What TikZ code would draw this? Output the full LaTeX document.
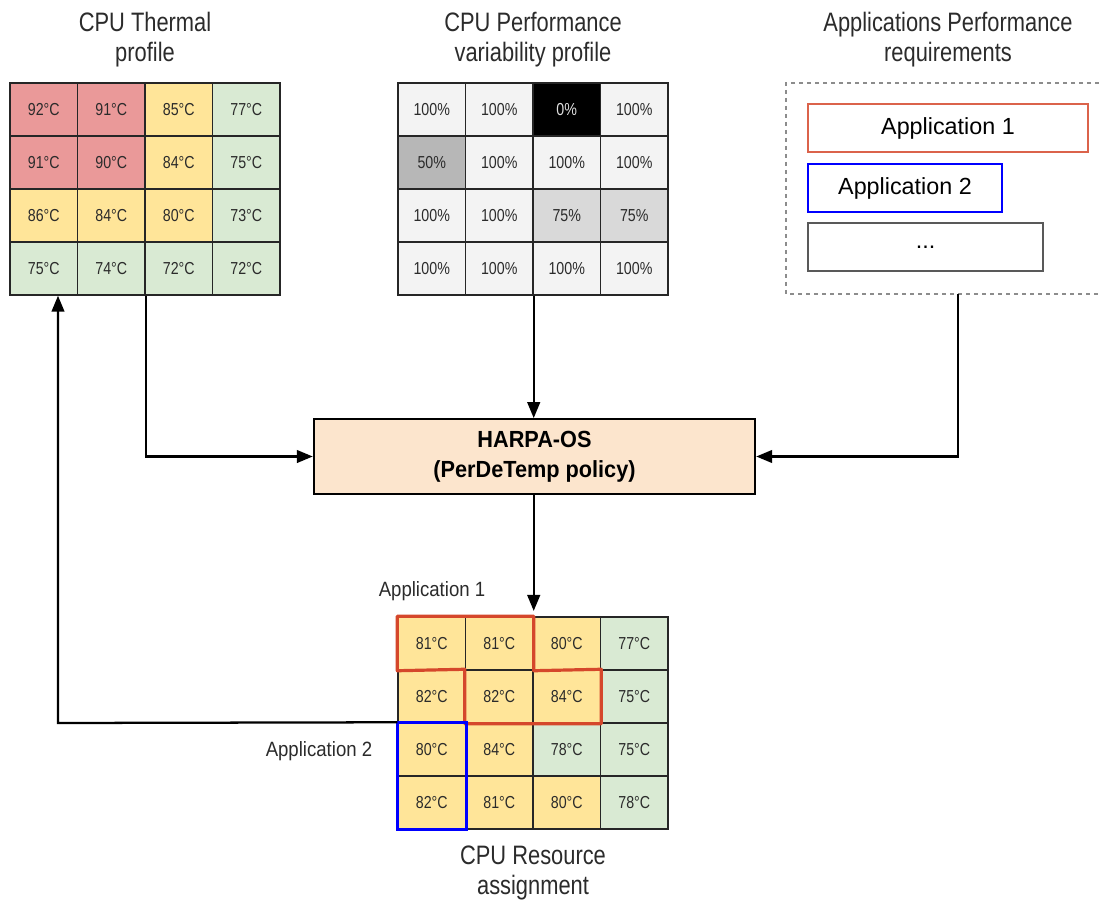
\documentclass[tikz,border=0pt]{standalone}
\usepackage{fontspec}
\setmainfont{Liberation Sans}
\newfontfamily\narrowfont[FakeStretch=0.82]{Liberation Sans}
\newfontfamily\labelfont[FakeStretch=0.9]{Liberation Sans}
\newfontfamily\osfont[FakeStretch=0.93]{Liberation Sans}
\usetikzlibrary{arrows.meta}
\definecolor{hot}{HTML}{EA9999}
\definecolor{warm}{HTML}{FFE599}
\definecolor{cool}{HTML}{D9EAD3}
\definecolor{full}{HTML}{F3F3F3}
\definecolor{half}{HTML}{B7B7B7}
\definecolor{threeq}{HTML}{D9D9D9}
\definecolor{osfill}{HTML}{FCE5CD}
\definecolor{appred}{HTML}{D5472B}
\definecolor{appblue}{HTML}{0000FF}
\definecolor{txt}{HTML}{2B2B2B}
\begin{document}
\begin{tikzpicture}[x=.75pt,y=-.75pt,line width=1pt,
  cell/.style={draw=black!85,line width=1.1pt,inner sep=0pt,minimum width=50.6pt,minimum height=39.75pt,
    text=txt,font=\narrowfont\fontsize{13}{15}\selectfont},
  title/.style={align=center,text=txt,font=\narrowfont\fontsize{20}{22.5}\selectfont},
  applabel/.style={text=txt,font=\labelfont\fontsize{15.5}{18}\selectfont},
  appbox/.style={draw,line width=1.6pt,minimum height=36pt,inner sep=0pt,font=\fontsize{17.5}{20}\selectfont},
  flow/.style={line width=1.7pt,-{Triangle[length=12pt,width=9.5pt]}}]
\useasboundingbox (0,0) rectangle (1099,902);
% titles
\node[title] (thtitle) at (145,40) {CPU Thermal\\profile};
\node[title] (pftitle) at (533,40) {CPU Performance\\variability profile};
\node[title] (rqtitle) at (948,40) {Applications Performance\\requirements};
\node[title] (rstitle) at (533,873) {CPU Resource\\assignment};
% thermal profile
\foreach \v/\f [count=\i from 0] in {92/hot,91/hot,85/warm,77/cool,91/hot,90/hot,84/warm,75/cool,
    86/warm,84/warm,80/warm,73/cool,75/cool,74/cool,72/cool,72/cool}{
  \pgfmathtruncatemacro\cx{mod(\i,4)}
  \pgfmathtruncatemacro\cy{\i/4}
  \node[cell,fill=\f] (th\i) at ({10+67.5*(\cx+.5)},{83+53*(\cy+.5)}) {\v°C};
}
% performance variability profile
\foreach \v/\f/\t [count=\i from 0] in {100/full/txt,100/full/txt,0/black/black!12,100/full/txt,
    50/half/txt,100/full/txt,100/full/txt,100/full/txt,100/full/txt,100/full/txt,75/threeq/txt,75/threeq/txt,
    100/full/txt,100/full/txt,100/full/txt,100/full/txt}{
  \pgfmathtruncatemacro\cx{mod(\i,4)}
  \pgfmathtruncatemacro\cy{\i/4}
  \node[cell,fill=\f,text=\t] (pf\i) at ({398+67.5*(\cx+.5)},{83+53*(\cy+.5)}) {\v\%};
}
% resource assignment
\foreach \v/\f [count=\i from 0] in {81/warm,81/warm,80/warm,77/cool,82/warm,82/warm,84/warm,75/cool,
    80/warm,84/warm,78/cool,75/cool,82/warm,81/warm,80/warm,78/cool}{
  \pgfmathtruncatemacro\cx{mod(\i,4)}
  \pgfmathtruncatemacro\cy{\i/4}
  \node[cell,fill=\f] (rs\i) at ({398+67.5*(\cx+.5)},{617+53*(\cy+.5)}) {\v°C};
}
\draw[appred,line width=2.4pt,line join=round] (rs0.north west) -- (rs1.north east) -- (rs1.south east)
  -- (rs6.north east) -- (rs6.south east) -- (rs5.south west) -- (rs5.north west) -- (rs0.south west) -- cycle;
\draw[appblue,line width=2.4pt] (rs8.north west) rectangle (rs12.south east);
\node[applabel] (lbl1) at (432,591) {Application 1};
\node[applabel] (lbl2) at (319,751) {Application 2};
% requirements
\draw[dashed,black!45,line width=.9pt] (1099,83) -- (786,83) -- (786,294) -- (1099,294);
\coordinate (rqout) at (958,294);
\node[appbox,draw=appred!85,minimum width=210pt] (app1) at (948,128) {Application 1};
\node[appbox,draw=appblue,minimum width=145.5pt] (app2) at (905,188) {Application 2};
\node[appbox,draw=black!65,line width=1.2pt,minimum width=176pt] (appn) at (925.5,247) {...};
% HARPA-OS
\node[draw,line width=1.6pt,fill=osfill,minimum width=331pt,minimum height=56pt,align=center,
  font=\osfont\bfseries\fontsize{17.5}{22.5}\selectfont] (harpa) at (534.5,456.5) {HARPA-OS\\(PerDeTemp policy)};
\draw[flow] (pf13.south east) -- (pf13.south east |- harpa.north);
\draw[flow] (th13.south east) |- (harpa.west);
\draw[flow] (rqout) |- (harpa.east);
\draw[flow] (harpa.south -| rs1.north east) -- ([yshift=4pt]rs1.north east);
\coordinate (fbturn) at (58,723);
\draw[flow] (rs8.north west) -- (fbturn) -- (fbturn |- th12.south);
\end{tikzpicture}
\end{document}
